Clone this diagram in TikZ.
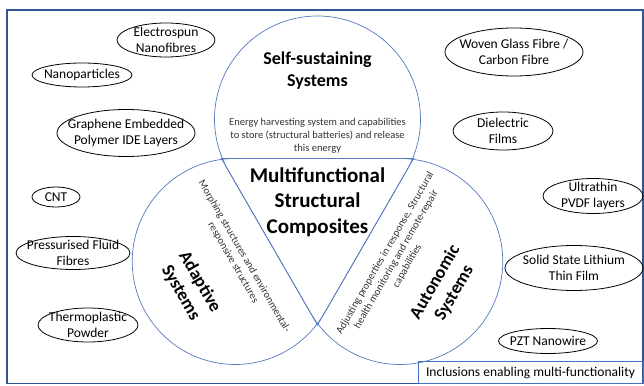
\documentclass[tikz,border=0pt]{standalone}
\usepackage{fontspec}
\setmainfont{Carlito}
\usepackage{tikz}
\usetikzlibrary{shapes.geometric,calc}

\definecolor{dropline}{RGB}{84,120,192}
\definecolor{frameblue}{RGB}{47,85,151}
\definecolor{boxblue}{RGB}{68,114,196}

\begin{document}
\begin{tikzpicture}[x=1pt,y=1pt,
  inclusion/.style={ellipse, draw, line width=0.8pt, inner sep=-30pt, align=center, font=\fontsize{13.5}{16}\selectfont},
  systitle/.style={align=center, font=\fontsize{18}{22}\selectfont\bfseries},
  sysnote/.style={align=center, text=black!80, font=\fontsize{10.5}{12.8}\selectfont}]
\useasboundingbox (0,0) rectangle (644,385);
\draw[frameblue, line width=1.6pt] (7,1.5) rectangle (643,375);

% three teardrops round one centre
\coordinate (o) at (317.5,171);
\foreach \a in {90,210,330} {
  \draw[dropline, line width=0.7pt] ($(o)+(\a+180:111)$) -- ($(o)+(\a:95)+(\a+240:103)$)
    arc[start angle=\a+240, end angle=\a+480, radius=103] -- cycle;
}

\node[systitle] (selfsus) at ($(o)+(90:143)$) {Self-sustaining\\Systems};
\node[sysnote] (selfnote) at ($(o)+(90:78)$) {Energy harvesting system and capabilities\\to store (structural batteries) and release\\this energy};
\node[systitle, rotate=-60] (adaptive) at ($(o)+(210:147)$) {Adaptive\\Systems};
\node[sysnote, rotate=-60] (adaptnote) at ($(o)+(210:91)$) {Morphing structures and environmental-\\responsive structures};
\node[systitle, rotate=60] (autonomic) at ($(o)+(330:147)$) {Autonomic\\Systems};
\node[sysnote, rotate=60] (autonote) at ($(o)+(330:91)$) {Adjusting properties in response, Structural\\health monitoring and remote-repair\\capabilities};
\node[systitle, font=\fontsize{21}{25.5}\selectfont\bfseries] (msc) at (317.5,183) {Multifunctional\\Structural\\Composites};

% inclusions
\node[inclusion, minimum width=98pt, minimum height=34pt] (electro) at (166,345) {Electrospun\\Nanofibres};
\node[inclusion, minimum width=100pt, minimum height=24pt] (nanopart) at (82,310) {Nanoparticles};
\node[inclusion, minimum width=138pt, minimum height=47pt] (graphene) at (126,252) {Graphene Embedded\\Polymer IDE Layers};
\node[inclusion, minimum width=48pt, minimum height=20pt] (cnt) at (56,188) {CNT};
\node[inclusion, minimum width=114pt, minimum height=33pt] (fluid) at (73,132) {Pressurised Fluid\\Fibres};
\node[inclusion, minimum width=100pt, minimum height=34pt] (thermo) at (88,60) {Thermoplastic\\Powder};
\node[inclusion, minimum width=138pt, minimum height=48pt] (woven) at (514,333) {Woven Glass Fibre /\\Carbon Fibre};
\node[inclusion, minimum width=100pt, minimum height=38pt] (dielectric) at (503,254) {Dielectric\\Films};
\node[inclusion, minimum width=100pt, minimum height=35pt] (pvdf) at (593,189) {Ultrathin\\PVDF layers};
\node[inclusion, minimum width=138pt, minimum height=45pt] (lithium) at (574,117) {Solid State Lithium\\Thin Film};
\node[inclusion, minimum width=99pt, minimum height=25pt] (pzt) at (548,44) {PZT Nanowire};

\node[draw=boxblue, line width=0.9pt, minimum width=225pt, minimum height=22pt, inner sep=0pt, font=\fontsize{13.5}{16}\selectfont] (inclusions) at (530.5,12.5) {Inclusions enabling multi-functionality};
\end{tikzpicture}
\end{document}
